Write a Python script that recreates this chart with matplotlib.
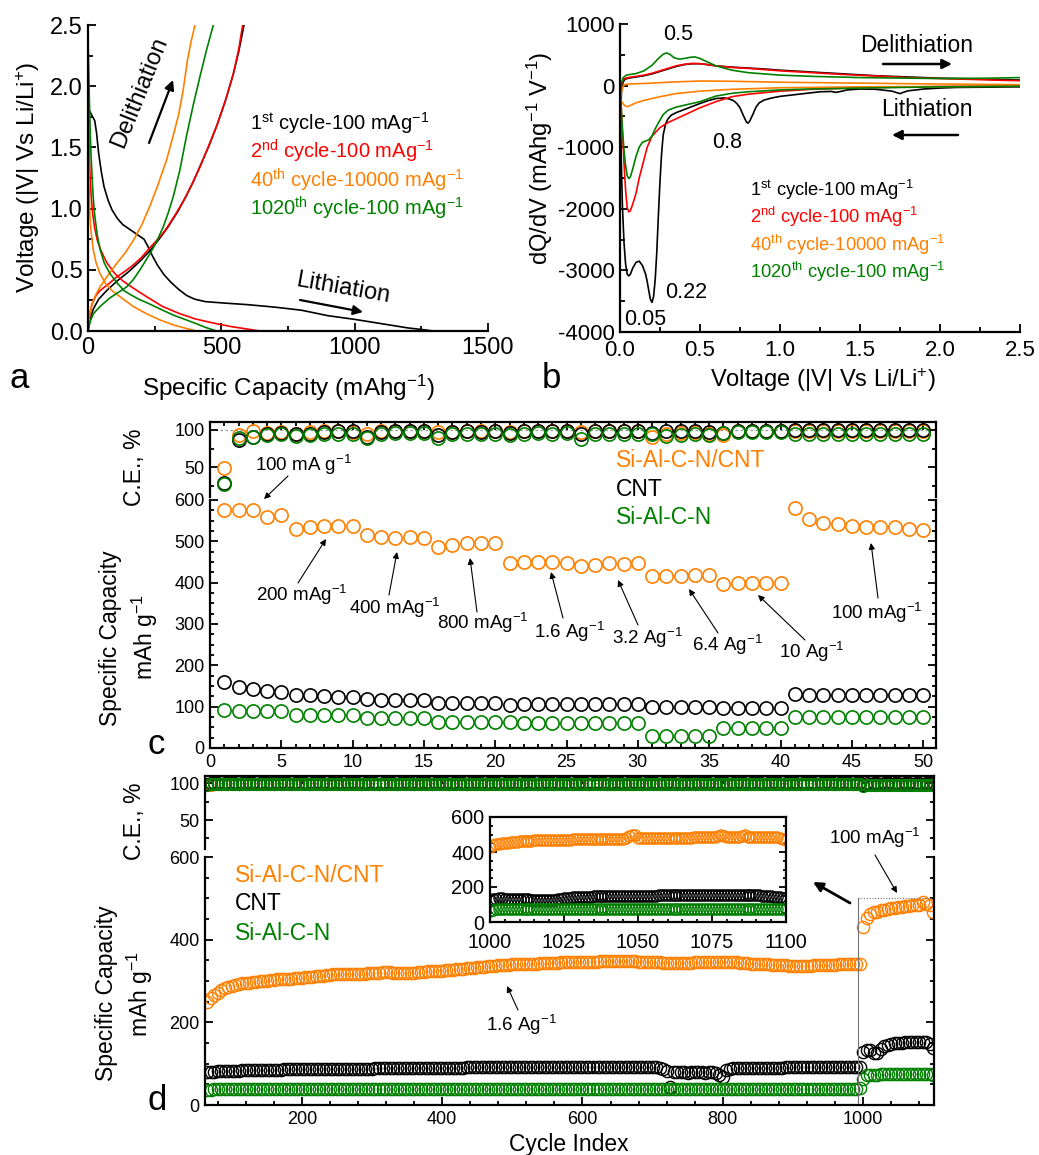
import numpy as np
import matplotlib
matplotlib.use("Agg")
import matplotlib.pyplot as plt
from matplotlib.ticker import MultipleLocator, FormatStrFormatter

plt.rcParams['font.family'] = ['Liberation Sans', 'DejaVu Sans']
plt.rcParams['mathtext.fontset'] = 'custom'
plt.rcParams['mathtext.rm'] = 'Liberation Sans'
plt.rcParams['mathtext.it'] = 'Liberation Sans:italic'
plt.rcParams['mathtext.bf'] = 'Liberation Sans:bold'
plt.rcParams['axes.unicode_minus'] = False

ORANGE = '#FF8000'
GREEN = '#008000'
RED = '#FF0000'
BLACK = '#000000'

# ---------------- Panel a: voltage profiles (capacity mAh/g, voltage V) ----------------
cap_1st_li = [0, 5, 15, 25, 32, 40, 50, 60, 75, 90, 110, 130, 150, 170, 190, 210, 225, 240, 260, 285,
              310, 340, 370, 400, 440, 500, 600, 700, 800, 900, 1000, 1100, 1200, 1260, 1294]
v_1st_li = [1.87, 1.80, 1.76, 1.72, 1.62, 1.45, 1.30, 1.18, 1.07, 0.99, 0.92, 0.87, 0.84, 0.81, 0.78, 0.75,
            0.69, 0.62, 0.54, 0.46, 0.40, 0.34, 0.29, 0.26, 0.24, 0.23, 0.215, 0.195, 0.17, 0.125, 0.095,
            0.06, 0.025, 0.01, 0.0]
cap_1st_de = [0, 8, 20, 40, 70, 110, 150, 190, 230, 270, 300, 335, 365, 395, 425, 455, 485, 515, 545, 565, 585]
v_1st_de = [0, 0.10, 0.18, 0.26, 0.33, 0.41, 0.48, 0.56, 0.65, 0.76, 0.85, 0.97, 1.09, 1.22, 1.37, 1.52,
            1.69, 1.88, 2.10, 2.28, 2.5]
cap_2nd_li = [0, 2, 5, 8, 12, 18, 25, 35, 50, 70, 100, 130, 170, 220, 280, 340, 400, 470, 540, 600, 644]
v_2nd_li = [2.0, 1.7, 1.45, 1.25, 1.1, 0.95, 0.84, 0.74, 0.65, 0.56, 0.47, 0.41, 0.35, 0.28, 0.2, 0.145,
            0.1, 0.065, 0.035, 0.015, 0.0]
cap_2nd_de = [0, 5, 15, 30, 45, 80, 107, 140, 170, 200, 232, 270, 295, 330, 360, 390, 420, 450, 482, 515,
              545, 565, 580]
v_2nd_de = [0, 0.12, 0.22, 0.29, 0.33, 0.39, 0.44, 0.49, 0.54, 0.60, 0.68, 0.77, 0.84, 0.96, 1.07, 1.20,
            1.34, 1.50, 1.67, 1.88, 2.10, 2.30, 2.5]
cap_40_li = [0, 2, 4, 7, 12, 20, 30, 45, 65, 90, 120, 170, 220, 270, 320, 370, 407]
v_40_li = [2.0, 1.5, 1.2, 0.95, 0.8, 0.66, 0.56, 0.47, 0.39, 0.33, 0.28, 0.2, 0.14, 0.09, 0.05, 0.02, 0.0]
cap_40_de = [0, 3, 7, 12, 20, 30, 45, 70, 107, 140, 170, 200, 232, 260, 295, 320, 340, 357, 372, 385, 401]
v_40_de = [0, 0.08, 0.14, 0.19, 0.25, 0.3, 0.36, 0.44, 0.55, 0.64, 0.74, 0.86, 1.02, 1.18, 1.40, 1.6,
           1.77, 1.97, 2.2, 2.35, 2.5]
cap_1020_li = [0, 1, 3, 5, 8, 11, 14, 18, 22, 26, 35, 45, 60, 82, 110, 135, 157, 190, 232, 280, 320, 357,
               400, 440, 482]
v_1020_li = [2.5, 2.3, 2.1, 1.9, 1.65, 1.45, 1.32, 1.15, 1.02, 0.93, 0.78, 0.67, 0.56, 0.47, 0.39, 0.33,
             0.30, 0.26, 0.22, 0.17, 0.13, 0.10, 0.065, 0.03, 0.0]
cap_1020_de = [0, 5, 12, 20, 32, 50, 82, 110, 145, 170, 195, 215, 232, 255, 282, 300, 320, 345, 370, 395,
               420, 445, 470]
v_1020_de = [0, 0.05, 0.1, 0.14, 0.17, 0.21, 0.27, 0.31, 0.36, 0.42, 0.50, 0.57, 0.63, 0.72, 0.85, 0.96,
             1.10, 1.32, 1.60, 1.85, 2.08, 2.3, 2.5]

# ---------------- Panel b: dQ/dV (V, mAh g-1 V-1) ----------------
vb_1st_li = [2.5, 2.3, 2.1, 2.0, 1.9, 1.8, 1.77, 1.75, 1.73, 1.7, 1.6, 1.5, 1.42, 1.38, 1.35, 1.32, 1.25,
             1.15, 1.05, 1.0, 0.95, 0.9, 0.87, 0.85, 0.83, 0.81, 0.80, 0.79, 0.77, 0.75, 0.73, 0.71, 0.68,
             0.65, 0.6, 0.55, 0.5, 0.45, 0.4, 0.35, 0.32, 0.3, 0.285, 0.27, 0.26, 0.25, 0.24, 0.23, 0.22,
             0.21, 0.2, 0.19, 0.18, 0.17, 0.16, 0.14, 0.12, 0.1, 0.08, 0.065, 0.055, 0.045, 0.035, 0.025,
             0.015, 0.008, 0.003]
dq_1st_li = [-20, -25, -30, -40, -55, -85, -110, -130, -115, -90, -60, -55, -70, -95, -110, -95, -100,
             -130, -160, -175, -200, -235, -280, -350, -470, -580, -610, -590, -480, -360, -290, -245, -215,
             -200, -210, -245, -290, -340, -390, -440, -480, -540, -620, -800, -1100, -1550, -2100, -2700,
             -3150, -3420, -3520, -3470, -3330, -3180, -3060, -2920, -2850, -2870, -2960, -3060, -3090,
             -3060, -2900, -2550, -1950, -1200, -500]
vb_1st_de = [0.003, 0.01, 0.02, 0.03, 0.05, 0.1, 0.15, 0.2, 0.25, 0.3, 0.35, 0.4, 0.45, 0.5, 0.55, 0.6,
             0.7, 0.8, 0.9, 1.0, 1.2, 1.4, 1.6, 1.8, 2.0, 2.2, 2.4, 2.5]
dq_1st_de = [-500, -50, 60, 100, 120, 140, 160, 190, 230, 270, 310, 340, 355, 355, 340, 320, 300, 285,
             270, 250, 220, 190, 160, 140, 120, 110, 95, 90]
vb_2nd_li = [2.5, 2.0, 1.5, 1.2, 1.0, 0.8, 0.7, 0.6, 0.5, 0.45, 0.4, 0.35, 0.3, 0.25, 0.2, 0.17, 0.15,
             0.12, 0.1, 0.08, 0.065, 0.055, 0.045, 0.035, 0.025, 0.015, 0.008, 0.003]
dq_2nd_li = [-5, -15, -35, -60, -90, -140, -180, -260, -360, -420, -480, -540, -600, -680, -820, -1000,
             -1200, -1500, -1750, -1920, -2030, -2050, -1980, -1700, -1250, -750, -350, -150]
vb_2nd_de = [0.003, 0.01, 0.02, 0.03, 0.05, 0.1, 0.15, 0.2, 0.25, 0.3, 0.35, 0.4, 0.45, 0.5, 0.55, 0.6,
             0.7, 0.8, 0.9, 1.0, 1.2, 1.4, 1.6, 1.8, 2.0, 2.2, 2.4, 2.5]
dq_2nd_de = [-150, 30, 90, 115, 130, 150, 170, 200, 240, 280, 320, 345, 360, 355, 340, 320, 295, 280,
             260, 240, 210, 180, 155, 130, 115, 100, 85, 80]
vb_40_li = [2.5, 2.0, 1.5, 1.0, 0.7, 0.5, 0.35, 0.25, 0.15, 0.1, 0.07, 0.05, 0.035, 0.02, 0.008, 0.002]
dq_40_li = [-10, -15, -20, -35, -60, -90, -130, -180, -240, -280, -315, -340, -335, -300, -250, -200]
vb_40_de = [0.002, 0.01, 0.02, 0.03, 0.05, 0.1, 0.2, 0.3, 0.5, 0.7, 1.0, 1.5, 2.0, 2.5]
dq_40_de = [-200, -90, -10, 15, 25, 30, 40, 55, 75, 70, 55, 40, 25, 15]
vb_1020_li = [2.5, 2.0, 1.5, 1.2, 1.0, 0.8, 0.7, 0.6, 0.5, 0.45, 0.4, 0.35, 0.3, 0.27, 0.25, 0.22, 0.2,
              0.18, 0.16, 0.14, 0.12, 0.1, 0.08, 0.065, 0.055, 0.045, 0.035, 0.025, 0.015, 0.008, 0.003]
dq_1020_li = [-10, -20, -40, -55, -70, -100, -125, -170, -260, -290, -320, -350, -400, -470, -560, -700,
              -820, -880, -900, -920, -1000, -1150, -1350, -1480, -1510, -1460, -1300, -1050, -700, -380,
              -150]
vb_1020_de = [0.003, 0.01, 0.02, 0.04, 0.06, 0.1, 0.15, 0.2, 0.24, 0.27, 0.29, 0.31, 0.34, 0.37, 0.4,
              0.44, 0.47, 0.5, 0.55, 0.6, 0.7, 0.8, 1.0, 1.2, 1.5, 2.0, 2.3, 2.5]
dq_1020_de = [-150, 50, 130, 170, 180, 195, 240, 330, 440, 510, 530, 510, 450, 430, 440, 460, 465, 440,
              380, 320, 250, 210, 170, 150, 130, 115, 120, 130]

# ---------------- Panel c: rate capability, cycles 1..50 ----------------
cycles_c = list(range(1, 51))
cnt_comp_cap_c = [576, 577, 576, 558, 564, 531, 535, 538, 538, 538, 515, 511, 508, 511, 508, 487, 491, 495,
                  495, 495, 448, 451, 450, 450, 448, 440, 443, 448, 446, 448, 415, 416, 416, 418, 418, 397,
                  400, 400, 400, 400, 580, 554, 545, 542, 538, 535, 535, 534, 530, 527]
cnt_cap_c = [160, 148, 142, 139, 136, 128, 128, 126, 124, 124, 118, 116, 116, 116, 116, 110, 110, 110, 110,
             108, 104, 106, 106, 106, 106, 106, 106, 106, 106, 106, 98, 98, 98, 98, 98, 96, 96, 96, 96, 96,
             130, 129, 129, 129, 129, 129, 129, 129, 129, 129]
sialcn_cap_c = [92, 90, 89, 89, 89, 80, 80, 80, 80, 80, 73, 73, 72, 72, 72, 64, 64, 64, 63, 63, 62, 60, 60,
                60, 60, 60, 60, 60, 60, 60, 29, 29, 29, 29, 30, 48, 48, 48, 48, 48, 76, 76, 76, 76, 76, 76,
                76, 76, 76, 76]
cnt_comp_ce_c = [48, 93, 98, 96, 97, 95, 97, 98, 98, 97, 95, 98, 98, 98, 98, 97, 97, 98, 98, 98, 97, 98, 98,
                 98, 98, 97, 98, 98, 98, 98, 91, 95, 96, 97, 95, 93, 99, 99, 99, 99, 99, 99, 99, 99, 99, 99,
                 99, 99, 99, 99]
cnt_ce_c = [28, 86, 91, 94, 96, 95, 94, 97, 98, 98, 91, 97, 98, 98, 98, 93, 97, 98, 97, 98, 96, 98, 98, 98,
            98, 95, 98, 98, 98, 98, 96, 98, 98, 98, 97, 96, 99, 99, 99, 99, 100, 100, 100, 100, 100, 100,
            100, 100, 100, 100]
sialcn_ce_c = [27, 89, 91, 93, 94, 92, 93, 95, 95, 95, 89, 95, 96, 96, 96, 89, 94, 95, 95, 95, 93, 95, 96,
               95, 96, 88, 95, 95, 95, 95, 95, 92, 93, 94, 93, 96, 97, 97, 97, 97, 95, 95, 95, 95, 95, 95,
               95, 95, 95, 95]

# ---------------- Panel d: long cycling (every 5th cycle 65..995, every cycle 1000..1100) ----------------
cycles_d = list(range(65, 1000, 5))
cnt_comp_cap_d = [
    250, 258, 266, 272, 278, 282, 286, 289, 291, 293,
    294, 295, 296, 297, 298, 299, 300, 301, 302, 303,
    304, 304, 305, 306, 306, 307, 308, 308, 309, 310,
    310, 311, 312, 313, 314, 315, 316, 317, 318, 318,
    318, 318, 318, 317, 318, 318, 319, 319, 320, 320,
    321, 321, 321, 320, 320, 320, 319, 319, 320, 320,
    321, 322, 322, 323, 323, 324, 324, 325, 326, 327,
    327, 328, 329, 330, 331, 331, 332, 333, 334, 335,
    336, 336, 337, 338, 338, 339, 339, 340, 340, 341,
    341, 341, 342, 342, 342, 343, 343, 343, 344, 344,
    344, 345, 345, 345, 346, 346, 346, 346, 347, 347,
    347, 347, 348, 348, 348, 349, 349, 349, 349, 349,
    349, 348, 348, 347, 347, 346, 346, 345, 345, 345,
    344, 344, 344, 343, 343, 343, 343, 344, 344, 345,
    345, 346, 346, 347, 347, 347, 347, 347, 346, 346,
    345, 345, 344, 344, 343, 342, 342, 341, 341, 340,
    340, 339, 339, 338, 338, 338, 337, 337, 337, 337,
    337, 337, 337, 338, 338, 338, 339, 339, 339, 339,
    340, 340, 340, 340, 340, 341, 341]
cnt_cap_d = [
    80, 81, 81, 82, 82, 82, 83, 83, 83, 83,
    84, 84, 84, 84, 84, 85, 85, 85, 85, 85,
    85, 85, 86, 86, 86, 86, 86, 86, 86, 87,
    87, 87, 87, 87, 87, 87, 87, 88, 88, 88,
    88, 88, 88, 88, 88, 88, 88, 88, 89, 89,
    89, 89, 89, 89, 89, 89, 89, 89, 89, 89,
    89, 89, 90, 90, 90, 90, 90, 90, 90, 90,
    90, 90, 90, 90, 91, 91, 91, 91, 91, 91,
    91, 91, 91, 91, 91, 91, 91, 91, 91, 91,
    91, 91, 91, 91, 91, 91, 91, 91, 91, 91,
    91, 91, 91, 91, 91, 91, 91, 91, 91, 91,
    91, 91, 91, 91, 91, 91, 91, 91, 91, 91,
    91, 91, 91, 91, 91, 91, 91, 91, 91, 90,
    86, 82, 44, 80, 79, 79, 80, 78, 79, 80,
    80, 79, 78, 79, 80, 78, 72, 68, 84, 88,
    89, 89, 89, 90, 90, 90, 90, 90, 90, 90,
    90, 90, 90, 90, 90, 91, 91, 91, 91, 91,
    91, 91, 91, 91, 91, 91, 91, 91, 91, 91,
    91, 91, 91, 91, 91, 92, 92]
sialcn_cap_d = [
    37, 37, 38, 38, 38, 38, 38, 38, 38, 38,
    38, 38, 38, 38, 38, 38, 38, 38, 38, 38,
    38, 38, 38, 38, 38, 38, 38, 39, 39, 39,
    39, 39, 39, 39, 39, 39, 39, 39, 39, 39,
    39, 39, 39, 39, 39, 39, 39, 39, 39, 39,
    39, 39, 39, 39, 39, 39, 39, 39, 39, 39,
    39, 39, 39, 39, 39, 39, 39, 39, 39, 39,
    39, 39, 39, 39, 39, 39, 39, 39, 39, 39,
    39, 39, 39, 39, 39, 39, 39, 39, 39, 39,
    39, 39, 39, 39, 39, 39, 39, 39, 39, 39,
    39, 39, 39, 39, 39, 39, 39, 39, 39, 39,
    39, 39, 39, 39, 39, 39, 39, 39, 39, 39,
    39, 39, 39, 39, 39, 39, 39, 39, 39, 39,
    39, 39, 39, 39, 39, 39, 39, 39, 39, 39,
    39, 39, 39, 39, 39, 39, 39, 39, 39, 39,
    39, 39, 39, 39, 39, 39, 39, 39, 39, 39,
    39, 39, 39, 39, 39, 39, 39, 39, 39, 39,
    39, 39, 39, 39, 39, 39, 39, 39, 39, 39,
    39, 39, 39, 39, 39, 39, 40]
cnt_comp_ce_d = [
    98, 98, 99, 99, 99, 99, 99, 99, 99, 99,
    99, 99, 99, 99, 99, 99, 99, 99, 99, 99,
    99, 99, 99, 99, 99, 99, 99, 99, 99, 99,
    99, 99, 99, 99, 99, 99, 99, 99, 99, 99,
    99, 99, 99, 99, 99, 99, 99, 99, 99, 99,
    99, 99, 99, 99, 99, 99, 99, 99, 99, 99,
    99, 99, 99, 99, 99, 99, 99, 99, 99, 99,
    99, 99, 99, 99, 99, 99, 99, 99, 99, 99,
    99, 99, 99, 99, 99, 99, 99, 99, 99, 99,
    99, 99, 99, 99, 99, 99, 99, 99, 99, 99,
    99, 99, 99, 99, 99, 99, 99, 99, 99, 99,
    99, 99, 99, 99, 99, 99, 99, 99, 99, 99,
    99, 99, 99, 99, 99, 99, 99, 99, 99, 99,
    99, 99, 99, 99, 99, 99, 99, 99, 99, 99,
    99, 99, 99, 99, 99, 99, 99, 99, 99, 99,
    99, 99, 99, 99, 99, 99, 99, 99, 99, 99,
    99, 99, 99, 99, 99, 99, 99, 99, 99, 99,
    99, 99, 99, 99, 99, 99, 99, 99, 99, 99,
    99, 99, 99, 99, 99, 99, 99]
cnt_ce_d = [
    99, 100, 100, 100, 99, 100, 100, 100, 100, 99,
    100, 100, 100, 100, 99, 100, 100, 100, 100, 99,
    100, 100, 100, 100, 99, 100, 100, 100, 100, 99,
    100, 100, 100, 100, 99, 100, 100, 100, 100, 99,
    100, 100, 100, 100, 99, 100, 100, 100, 100, 99,
    100, 100, 100, 100, 99, 100, 100, 100, 100, 99,
    100, 100, 100, 100, 99, 100, 100, 100, 100, 99,
    100, 100, 100, 100, 99, 100, 100, 100, 100, 99,
    100, 100, 100, 100, 99, 100, 100, 100, 100, 99,
    100, 100, 100, 100, 99, 100, 100, 100, 100, 99,
    100, 100, 100, 100, 99, 100, 100, 100, 100, 99,
    100, 100, 100, 100, 99, 100, 100, 100, 100, 99,
    100, 100, 100, 100, 99, 100, 100, 100, 100, 99,
    100, 100, 100, 100, 99, 100, 100, 100, 100, 99,
    100, 100, 100, 100, 99, 100, 100, 100, 100, 99,
    100, 100, 100, 100, 99, 100, 100, 100, 100, 99,
    100, 100, 100, 100, 99, 100, 100, 100, 100, 99,
    100, 100, 100, 100, 99, 100, 100, 100, 100, 99,
    100, 100, 100, 100, 99, 100, 100]
sialcn_ce_d = [
    98, 99, 99, 99, 99, 99, 99, 99, 99, 99,
    99, 99, 99, 99, 99, 99, 99, 99, 99, 99,
    99, 99, 99, 99, 99, 99, 99, 99, 99, 99,
    99, 99, 99, 99, 99, 99, 99, 99, 99, 99,
    99, 99, 99, 99, 99, 99, 99, 99, 99, 99,
    99, 99, 99, 99, 99, 99, 99, 99, 99, 99,
    99, 99, 99, 99, 99, 99, 99, 99, 99, 99,
    99, 99, 99, 99, 99, 99, 99, 99, 99, 99,
    99, 99, 99, 99, 99, 99, 99, 99, 99, 99,
    99, 99, 99, 99, 99, 99, 99, 99, 99, 99,
    99, 99, 99, 99, 99, 99, 99, 99, 99, 99,
    99, 99, 99, 99, 99, 99, 99, 99, 99, 99,
    99, 99, 99, 99, 99, 99, 99, 99, 99, 99,
    99, 99, 99, 99, 99, 99, 99, 99, 99, 99,
    99, 99, 99, 99, 99, 99, 99, 99, 99, 99,
    99, 99, 99, 99, 99, 99, 99, 99, 99, 99,
    99, 99, 99, 99, 99, 99, 99, 99, 99, 99,
    99, 99, 99, 99, 99, 99, 99, 99, 99, 99,
    99, 99, 99, 99, 99, 99, 99]

cycles_post = list(range(1000, 1101))
cnt_comp_cap_post = [
    430, 440, 445, 448, 450, 452, 454, 456, 458, 460,
    461, 462, 463, 464, 465, 466, 466, 467, 467, 468,
    468, 469, 469, 470, 470, 471, 471, 471, 472, 472,
    472, 473, 473, 473, 474, 474, 474, 475, 475, 475,
    476, 476, 476, 477, 477, 477, 478, 492, 500, 495,
    480, 478, 478, 479, 479, 479, 480, 480, 480, 480,
    481, 481, 481, 481, 482, 482, 482, 482, 482, 483,
    483, 483, 483, 484, 484, 484, 485, 492, 498, 494,
    485, 485, 486, 486, 486, 490, 496, 488, 486, 486,
    486, 486, 486, 485, 485, 485, 484, 484, 478, 472, 468]
cnt_cap_post = [
    128, 132, 134, 135, 135, 134, 134, 133, 133, 132,
    132, 131, 130, 129, 128, 127, 126, 126, 125, 125,
    125, 126, 128, 130, 133, 136, 138, 140, 141, 142,
    143, 144, 144, 145, 145, 146, 146, 146, 147, 147,
    147, 148, 148, 148, 149, 149, 149, 149, 150, 150,
    150, 150, 151, 151, 151, 151, 151, 152, 152, 152,
    152, 152, 152, 152, 152, 152, 152, 152, 152, 152,
    152, 152, 153, 153, 153, 153, 153, 153, 153, 153,
    153, 153, 153, 153, 153, 153, 153, 153, 153, 152,
    152, 152, 151, 150, 149, 147, 145, 143, 141, 139, 138]
sialcn_cap_post = [
    62, 70, 72, 73, 73, 73, 73, 73, 73, 73,
    73, 73, 73, 73, 73, 73, 73, 73, 73, 73,
    73, 74, 74, 74, 74, 74, 74, 74, 74, 74,
    74, 74, 74, 74, 74, 74, 74, 74, 74, 74,
    74, 74, 74, 74, 74, 74, 74, 74, 74, 74,
    74, 74, 74, 74, 74, 74, 74, 74, 74, 74,
    74, 74, 74, 74, 74, 74, 74, 74, 74, 74,
    74, 74, 74, 74, 74, 74, 74, 74, 74, 74,
    74, 74, 74, 74, 74, 74, 74, 74, 74, 74,
    74, 74, 74, 74, 74, 74, 74, 74, 74, 74, 73]
cycles_post_ce = list(range(1000, 1101, 5))
cnt_comp_ce_post = [97, 99, 98, 99, 98, 99, 99, 98, 99, 99, 98, 99, 99, 98, 99, 99, 98, 99, 99, 98, 99]
cnt_ce_post = [98, 100, 99, 100, 100, 99, 100, 100, 99, 100, 100, 99, 100, 100, 99, 100, 100, 99, 100, 100, 99]
sialcn_ce_post = [96, 98, 97, 98, 97, 98, 98, 97, 98, 98, 97, 98, 98, 97, 98, 98, 97, 98, 98, 97, 98]

for a, b in [(cycles_d, cnt_comp_cap_d), (cycles_d, cnt_cap_d), (cycles_d, sialcn_cap_d),
             (cycles_d, cnt_comp_ce_d), (cycles_d, cnt_ce_d), (cycles_d, sialcn_ce_d),
             (cycles_post, cnt_comp_cap_post), (cycles_post, cnt_cap_post), (cycles_post, sialcn_cap_post),
             (cycles_post_ce, cnt_comp_ce_post), (cycles_post_ce, cnt_ce_post), (cycles_post_ce, sialcn_ce_post)]:
    assert len(a) == len(b), (len(a), len(b))

# ---------------- figure ----------------
W, H = 1039, 1155
fig = plt.figure(figsize=(W / 100, H / 100), dpi=100)


def box(l, t, r, b):
    return [l / W, 1 - b / H, (r - l) / W, (b - t) / H]


def style(ax, sides, lsize, maj=6, mnr=3.5):
    for s in ('left', 'right', 'top', 'bottom'):
        ax.spines[s].set_visible(s in sides)
        ax.spines[s].set_linewidth(1.6)
    ax.tick_params(which='both', direction='in', width=1.3,
                   left='left' in sides, right='right' in sides,
                   top='top' in sides, bottom='bottom' in sides,
                   labelleft='left' in sides, labelright=False, labeltop=False,
                   labelbottom='bottom' in sides, labelsize=lsize, pad=4)
    ax.tick_params(which='major', length=maj)
    ax.tick_params(which='minor', length=mnr)


def ftext(x, y, s, **kw):
    kw.setdefault('ha', 'center')
    kw.setdefault('va', 'center')
    fig.text(x / W, 1 - y / H, s, **kw)


def farrow(ax, x1, y1, x2, y2, lw=0.8, ms=9):
    ax.annotate('', xy=(x2 / W, 1 - y2 / H), xytext=(x1 / W, 1 - y1 / H),
                xycoords='figure fraction', textcoords='figure fraction',
                arrowprops=dict(arrowstyle='-|>', color='k', lw=lw, mutation_scale=ms,
                                shrinkA=0, shrinkB=0))


LW = 1.2
# ----- panel a -----
ax_a = fig.add_axes(box(88, 25, 488, 331))
ax_a.plot(cap_1st_li, v_1st_li, color=BLACK, lw=LW)
ax_a.plot(cap_1st_de, v_1st_de, color=BLACK, lw=LW)
ax_a.plot(cap_2nd_li, v_2nd_li, color=RED, lw=LW)
ax_a.plot(cap_2nd_de, v_2nd_de, color=RED, lw=LW)
ax_a.plot(cap_40_li, v_40_li, color=ORANGE, lw=LW)
ax_a.plot(cap_40_de, v_40_de, color=ORANGE, lw=LW)
ax_a.plot(cap_1020_li, v_1020_li, color=GREEN, lw=LW, clip_on=False)
ax_a.plot(cap_1020_de, v_1020_de, color=GREEN, lw=LW)
ax_a.set_xlim(0, 1500)
ax_a.set_ylim(0, 2.5)
style(ax_a, ('left', 'bottom'), 17)
ax_a.xaxis.set_major_locator(MultipleLocator(500))
ax_a.xaxis.set_minor_locator(MultipleLocator(250))
ax_a.yaxis.set_major_locator(MultipleLocator(0.5))
ax_a.yaxis.set_minor_locator(MultipleLocator(0.25))
ax_a.yaxis.set_major_formatter(FormatStrFormatter('%.1f'))

ftext(28, 177, r'Voltage (|V| Vs Li/Li$^{+}$)', rotation=90, fontsize=17.5)
ftext(288, 388, r'Specific Capacity (mAhg$^{-1}$)', fontsize=17.5)
legend_a = [(r'1$^{\rm st}$ cycle-100 mAg$^{-1}$', BLACK),
            (r'2$^{\rm nd}$ cycle-100 mAg$^{-1}$', RED),
            (r'40$^{\rm th}$ cycle-10000 mAg$^{-1}$', ORANGE),
            (r'1020$^{\rm th}$ cycle-100 mAg$^{-1}$', GREEN)]
for i, (s, c) in enumerate(legend_a):
    ftext(250, 123 + i * 28.5, s, color=c, fontsize=14.5, ha='left')
ftext(140, 92, 'Delithiation', rotation=68, fontsize=17)
farrow(ax_a, 149, 143, 173, 80, lw=1.6, ms=14)
ftext(343, 288, 'Lithiation', rotation=-10, fontsize=17)
farrow(ax_a, 300, 300, 363, 312, lw=1.6, ms=14)
ftext(19, 378, 'a', fontsize=25)

# ----- panel b -----
ax_b = fig.add_axes(box(620, 24, 1020, 332))
ax_b.plot(vb_1st_li, dq_1st_li, color=BLACK, lw=LW)
ax_b.plot(vb_1st_de, dq_1st_de, color=BLACK, lw=LW)
ax_b.plot(vb_2nd_li, dq_2nd_li, color=RED, lw=LW)
ax_b.plot(vb_2nd_de, dq_2nd_de, color=RED, lw=LW)
ax_b.plot(vb_40_li, dq_40_li, color=ORANGE, lw=LW)
ax_b.plot(vb_40_de, dq_40_de, color=ORANGE, lw=LW)
ax_b.plot(vb_1020_li, dq_1020_li, color=GREEN, lw=LW)
ax_b.plot(vb_1020_de, dq_1020_de, color=GREEN, lw=LW)
ax_b.set_xlim(0, 2.5)
ax_b.set_ylim(-4000, 1000)
style(ax_b, ('left', 'bottom'), 16)
ax_b.tick_params(axis='x', pad=6)
ax_b.xaxis.set_major_locator(MultipleLocator(0.5))
ax_b.xaxis.set_minor_locator(MultipleLocator(0.25))
ax_b.xaxis.set_major_formatter(FormatStrFormatter('%.1f'))
ax_b.yaxis.set_major_locator(MultipleLocator(1000))
ax_b.yaxis.set_minor_locator(MultipleLocator(500))

ftext(540, 158, r'dQ/dV (mAhg$^{-1}$ V$^{-1}$)', rotation=90, fontsize=17)
ftext(823, 380, r'Voltage (|V| Vs Li/Li$^{+}$)', fontsize=17)
for i, (s, c) in enumerate(legend_a):
    ftext(750, 190 + i * 27.3, s, color=c, fontsize=13.2, ha='left')
ftext(917, 45, 'Delithiation', fontsize=16.5)
farrow(ax_b, 883, 64, 952, 64, lw=1.8, ms=14)
ftext(927, 110, 'Lithiation', fontsize=16.5)
farrow(ax_b, 958, 135, 892, 135, lw=1.8, ms=14)
ftext(678, 35, '0.5', fontsize=15.5)
ftext(727, 143, '0.8', fontsize=15.5)
ftext(686, 292, '0.22', fontsize=15.5)
ftext(645, 320, '0.05', fontsize=15.5)
ftext(551, 378, 'b', fontsize=25)

# ----- panel c -----
MS_C, MEW_C = 9.5, 1.2
ax_cce = fig.add_axes(box(210, 422, 936, 497))
ax_cce.axhline(100, color='0.6', lw=0.9, ls=(0, (2, 2)), zorder=1)
for y, c in [(cnt_comp_ce_c, ORANGE), (cnt_ce_c, BLACK), (sialcn_ce_c, GREEN)]:
    ax_cce.plot(cycles_c, y, 'o', mfc='none', mec=c, ms=MS_C, mew=MEW_C, ls='none')
ax_cce.set_xlim(0, 50.9)
ax_cce.set_ylim(9.5, 110.8)
style(ax_cce, ('left', 'right', 'top'), 13, maj=6, mnr=3)
ax_cce.set_yticks([50, 100])
ax_cce.yaxis.set_minor_locator(MultipleLocator(25))
ax_cce.xaxis.set_major_locator(MultipleLocator(5))
ax_cce.xaxis.set_minor_locator(MultipleLocator(1))

ax_c = fig.add_axes(box(210, 500, 936, 748))
for y, c in [(cnt_comp_cap_c, ORANGE), (cnt_cap_c, BLACK), (sialcn_cap_c, GREEN)]:
    ax_c.plot(cycles_c, y, 'o', mfc='none', mec=c, ms=MS_C, mew=MEW_C, ls='none')
ax_c.set_xlim(0, 50.9)
ax_c.set_ylim(0, 600)
style(ax_c, ('left', 'right', 'bottom'), 13, maj=6, mnr=3)
ax_c.yaxis.set_major_locator(MultipleLocator(100))
ax_c.yaxis.set_minor_locator(MultipleLocator(25))
ax_c.xaxis.set_major_locator(MultipleLocator(5))
ax_c.xaxis.set_minor_locator(MultipleLocator(1))

ftext(135, 467, 'C.E., %', rotation=90, fontsize=16.5)
ftext(110, 638, 'Specific Capacity', rotation=90, fontsize=16.5)
ftext(145, 637, r'mAh g$^{-1}$', rotation=90, fontsize=16.5)
ftext(616, 460, 'Si-Al-C-N/CNT', color=ORANGE, fontsize=16.5, ha='left')
ftext(616, 489, 'CNT', color=BLACK, fontsize=16.5, ha='left')
ftext(616, 518, 'Si-Al-C-N', color=GREEN, fontsize=16.5, ha='left')

rate_labels = [
    (r'100 mA g$^{-1}$', (303, 465), (288, 476), (264, 499)),
    (r'200 mAg$^{-1}$', (302, 595), (298, 583), (326, 539)),
    (r'400 mAg$^{-1}$', (395, 608), (389, 595), (397, 552)),
    (r'800 mAg$^{-1}$', (483, 623), (477, 612), (470, 558)),
    (r'1.6 Ag$^{-1}$', (569, 632), (563, 618), (551, 572)),
    (r'3.2 Ag$^{-1}$', (647, 638), (638, 625), (618, 580)),
    (r'6.4 Ag$^{-1}$', (727, 645), (718, 633), (689, 589)),
    (r'10 Ag$^{-1}$', (812, 652), (805, 640), (758, 595)),
    (r'100 mAg$^{-1}$', (877, 613), (878, 598), (871, 543)),
]
for s, (tx, ty), (x1, y1), (x2, y2) in rate_labels:
    ftext(tx, ty, s, fontsize=13.5)
    farrow(ax_c, x1, y1, x2, y2, lw=0.8, ms=9)
ftext(156, 745, 'c', fontsize=25)

# ----- panel d -----
MS_D, MEW_D = 8.8, 1.0
ax_dce = fig.add_axes(box(205, 776, 934, 849))
ax_dce.axhline(100, color='0.6', lw=0.9, ls=(0, (2, 2)), zorder=1)
for yp, yq, c in [(cnt_comp_ce_d, cnt_comp_ce_post, ORANGE), (cnt_ce_d, cnt_ce_post, BLACK),
                  (sialcn_ce_d, sialcn_ce_post, GREEN)]:
    ax_dce.plot(cycles_d, yp, 'o', mfc='none', mec=c, ms=8.5, mew=MEW_D, ls='none')
    ax_dce.plot(cycles_post_ce, yq, 'o', mfc='none', mec=c, ms=8.5, mew=MEW_D, ls='none')
ax_dce.set_xlim(62, 1101)
ax_dce.set_ylim(10.8, 109.5)
style(ax_dce, ('left', 'right', 'top'), 13, maj=6, mnr=3)
ax_dce.set_yticks([50, 100])
ax_dce.yaxis.set_minor_locator(MultipleLocator(25))
ax_dce.xaxis.set_major_locator(MultipleLocator(200))
ax_dce.xaxis.set_minor_locator(MultipleLocator(40))

ax_d = fig.add_axes(box(205, 857, 934, 1105))
for yp, yq, c in [(cnt_comp_cap_d, cnt_comp_cap_post, ORANGE), (cnt_cap_d, cnt_cap_post, BLACK),
                  (sialcn_cap_d, sialcn_cap_post, GREEN)]:
    ax_d.plot(cycles_d, yp, 'o', mfc='none', mec=c, ms=MS_D, mew=MEW_D, ls='none')
    ax_d.plot(cycles_post[::5], yq[::5], 'o', mfc='none', mec=c, ms=MS_D, mew=MEW_D, ls='none')
ax_d.set_xlim(62, 1101)
ax_d.set_ylim(0, 600)
style(ax_d, ('left', 'right', 'bottom'), 13, maj=6, mnr=3)
ax_d.yaxis.set_major_locator(MultipleLocator(200))
ax_d.yaxis.set_minor_locator(MultipleLocator(50))
ax_d.xaxis.set_major_locator(MultipleLocator(200))
ax_d.xaxis.set_minor_locator(MultipleLocator(40))
# zoom box marking the inset region
ax_d.plot([993, 993], [0, 500], color='0.45', lw=0.8)
ax_d.plot([993, 1101], [500, 500], color='0.45', lw=0.8, ls=(0, (1, 1.5)))

ftext(135, 821, 'C.E., %', rotation=90, fontsize=16.5)
ftext(107, 993, 'Specific Capacity', rotation=90, fontsize=16.5)
ftext(140, 994, r'mAh g$^{-1}$', rotation=90, fontsize=16.5)
ftext(569, 1145, 'Cycle Index', fontsize=16.5)
ftext(235, 875, 'Si-Al-C-N/CNT', color=ORANGE, fontsize=16.5, ha='left')
ftext(235, 904, 'CNT', color=BLACK, fontsize=16.5, ha='left')
ftext(235, 933, 'Si-Al-C-N', color=GREEN, fontsize=16.5, ha='left')
ftext(521, 1025, r'1.6 Ag$^{-1}$', fontsize=13.5)
farrow(ax_d, 518, 1010, 507, 986, lw=0.8, ms=9)
ftext(875, 838, r'100 mAg$^{-1}$', fontsize=13.5)
farrow(ax_d, 875, 855, 897, 893, lw=0.8, ms=9)
farrow(ax_d, 850, 903, 813, 882, lw=2.0, ms=14)
ftext(157, 1101, 'd', fontsize=25)

# ----- inset -----
ax_in = fig.add_axes(box(490, 817, 786, 922))
for y, c in [(cnt_comp_cap_post, ORANGE), (cnt_cap_post, BLACK), (sialcn_cap_post, GREEN)]:
    ax_in.plot(cycles_post, y, 'o', mfc='none', mec=c, ms=8, mew=1.0, ls='none')
ax_in.set_xlim(1000, 1100)
ax_in.set_ylim(0, 600)
style(ax_in, ('left', 'right', 'top', 'bottom'), 14.3, maj=5, mnr=2.5)
ax_in.tick_params(top=False, which='both')
ax_in.tick_params(axis='x', pad=8)
ax_in.xaxis.set_major_locator(MultipleLocator(25))
ax_in.xaxis.set_minor_locator(MultipleLocator(5))
ax_in.yaxis.set_major_locator(MultipleLocator(200))
ax_in.yaxis.set_minor_locator(MultipleLocator(50))

fig.savefig('out.png', dpi=100)
